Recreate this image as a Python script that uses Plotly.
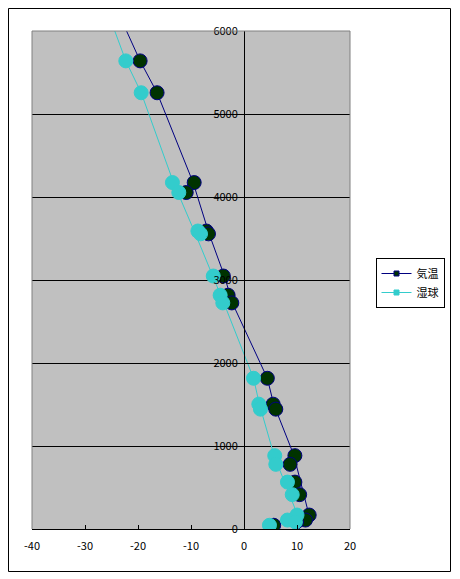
import plotly.graph_objects as go

# ---- data ----
series_names = ["気温", "湿球"]

# observation heights (m) for the large circle markers
obs_height = [5640, 5256, 4174, 4054, 3590, 3556, 3048, 2817, 2724, 1816,
              1504, 1444, 884, 779, 565, 414, 168, 108, 85, 45]
temp_obs = [-19.6, -16.4, -9.4, -10.9, -7.1, -6.7, -3.9, -3.0, -2.3, 4.4,
            5.5, 6.0, 9.6, 8.7, 9.6, 10.5, 12.3, 11.6, 9.9, 5.6]
wet_obs = [-22.3, -19.4, -13.5, -12.3, -8.7, -8.2, -5.8, -4.5, -4.0, 1.8,
           2.8, 3.1, 5.8, 6.0, 8.2, 9.1, 10.0, 8.2, 9.7, 4.8]

# line (profile) vertices
temp_line_h = [6090, 5640, 5256, 4174, 3560, 3050, 2724, 1816, 1504, 890, 160]
temp_line_x = [-22.8, -19.6, -16.4, -9.6, -6.6, -3.7, -2.2, 4.4, 5.6, 9.4, 12.3]
wet_line_h = [6090, 5640, 5256, 4174, 3560, 2724, 1816, 1504, 880, 170]
wet_line_x = [-24.9, -22.3, -19.4, -13.3, -9.2, -3.8, 1.8, 2.9, 5.7, 10.1]

x_tickvals = [-40, -30, -20, -10, 0, 10, 20]
x_ticktext = ["-40", "-30", "-20", "-10", "0", "10", "20"]
y_tickvals = [0, 1000, 2000, 3000, 4000, 5000, 6000]
y_ticktext = ["0", "1000", "2000", "3000", "4000", "5000", "6000"]

NAVY = "#000080"
DKGREEN = "#003300"
TURQ = "#33CCCC"
FONT = "Noto Sans CJK JP"

fig = go.Figure()

# profile lines (shown in legend)
fig.add_trace(go.Scatter(
    x=temp_line_x, y=temp_line_h, mode="lines+markers", name=series_names[0],
    line=dict(color=NAVY, width=1),
    marker=dict(symbol="square", size=5, color=DKGREEN, line=dict(color=NAVY, width=1)),
))
fig.add_trace(go.Scatter(
    x=wet_line_x, y=wet_line_h, mode="lines+markers", name=series_names[1],
    line=dict(color=TURQ, width=1),
    marker=dict(symbol="square", size=5, color=TURQ, line=dict(color=TURQ, width=1)),
))
# big observation circles
fig.add_trace(go.Scatter(
    x=temp_obs, y=obs_height, mode="markers", showlegend=False,
    marker=dict(symbol="circle", size=14, color=DKGREEN, line=dict(color=NAVY, width=1)),
))
fig.add_trace(go.Scatter(
    x=wet_obs, y=obs_height, mode="markers", showlegend=False,
    marker=dict(symbol="circle", size=14, color=TURQ, line=dict(color=TURQ, width=1)),
))

# page has an 8px body margin; work in figure coordinates
W, H = 452, 571
L, R, T, B = 24, 110, 23, 50
pw, ph = W - L - R, H - T - B

def px(xf):
    return (xf - L) / pw

def py(yf):
    return (H - B - yf) / ph

shapes = [
    # plot-area gray border (left, top, right)
    dict(type="line", xref="paper", yref="paper", x0=0, x1=0, y0=0, y1=1,
         line=dict(color="#808080", width=1), layer="above"),
    dict(type="line", xref="paper", yref="paper", x0=0, x1=1, y0=1, y1=1,
         line=dict(color="#808080", width=1), layer="above"),
    dict(type="line", xref="paper", yref="paper", x0=1, x1=1, y0=0, y1=1,
         line=dict(color="#808080", width=1), layer="above"),
    # outer chart border
    dict(type="rect", xref="paper", yref="paper",
         x0=px(0.5), x1=px(442.5), y0=py(563.5), y1=py(0.5),
         line=dict(color="black", width=1), fillcolor="rgba(0,0,0,0)", layer="below"),
]

fig.update_layout(
    width=W, height=H,
    margin=dict(l=L, r=R, t=T, b=B),
    paper_bgcolor="white",
    plot_bgcolor="#C0C0C0",
    font=dict(family=FONT, size=11, color="black"),
    showlegend=True,
    legend=dict(
        x=px(367.5), y=py(250), xanchor="left", yanchor="top",
        bordercolor="black", borderwidth=1, bgcolor="white",
        font=dict(family=FONT, size=11, color="black"),
        tracegroupgap=0, itemwidth=30,
    ),
    shapes=shapes,
    xaxis=dict(
        range=[-40, 20], tickvals=x_tickvals, ticktext=x_ticktext,
        showgrid=False, zeroline=False,
        showline=True, linecolor="black", linewidth=1,
        ticks="inside", ticklen=4, tickcolor="black",
        ticklabelstandoff=7,
        tickfont=dict(family=FONT, size=11),
    ),
    yaxis=dict(
        range=[0, 6000], tickvals=y_tickvals, ticktext=y_ticktext,
        showgrid=True, gridcolor="black", gridwidth=1, zeroline=False,
        anchor="free", position=40 / 60,
        showline=True, linecolor="black", linewidth=1,
        ticks="inside", ticklen=4, tickcolor="black",
        ticklabelstandoff=4,
        tickfont=dict(family=FONT, size=11),
    ),
)

fig.write_html("out.html")
